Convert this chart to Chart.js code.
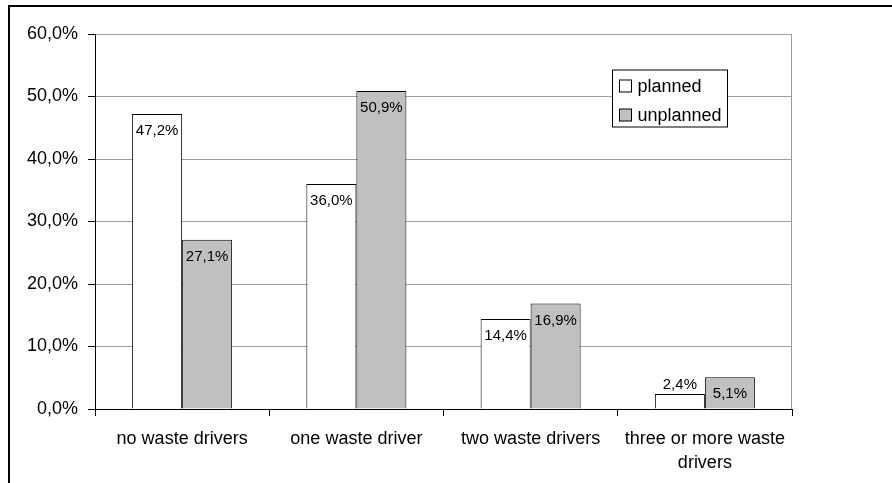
<!DOCTYPE html>
<html>
<head>
<meta charset="utf-8">
<script src="https://cdn.jsdelivr.net/npm/chart.js@4/dist/chart.umd.min.js"></script>
<style>
  html, body { margin: 0; padding: 0; background: #fff; }
  #marco { position: relative; width: 892px; height: 483px; overflow: hidden; }
  #borde { position: absolute; left: 8px; top: 5px; right: -4px; bottom: -4px;
           border-left: 2px solid #000; border-top: 2px solid #000; }
  #grafico { position: absolute; left: 0; top: 0; }
</style>
</head>
<body>
<div id="marco">
  <div id="borde"></div>
  <canvas id="grafico" width="892" height="483"></canvas>
</div>
<script>
// datos
const categorias = ["no waste drivers", "one waste driver", "two waste drivers", ["three or more waste", "drivers"]];
const planificado = [47.2, 36.0, 14.4, 2.4];
const noPlanificado = [27.1, 50.9, 16.9, 5.1];
const ticksY = [0, 10, 20, 30, 40, 50, 60];

const fuente = "'Liberation Sans', Arial, sans-serif";
const formatear = (v) => v.toFixed(1).replace(".", ",") + "%";

// etiquetas de valor sobre cada barra
const etiquetasPlugin = {
    id: "etiquetas",
    afterDatasetsDraw(chart) {
        const ctx = chart.ctx;
        ctx.save();
        ctx.font = "15px " + fuente;
        ctx.fillStyle = "#000";
        ctx.textAlign = "center";
        ctx.textBaseline = "middle";
        chart.data.datasets.forEach((ds, i) => {
            chart.getDatasetMeta(i).data.forEach((bar, j) => {
                const alto = bar.base - bar.y;
                const y = alto > 25 ? bar.y + 17 : bar.y - 9;
                ctx.fillText(formatear(ds.data[j]), bar.x, y);
            });
        });
        ctx.restore();
    }
};

// borde derecho del área y leyenda con recuadro
const marcoPlugin = {
    id: "marcoLeyenda",
    afterDraw(chart) {
        const ctx = chart.ctx;
        const a = chart.chartArea;
        ctx.save();
        ctx.strokeStyle = "#999";
        ctx.lineWidth = 1;
        ctx.beginPath();
        ctx.moveTo(a.right - 0.5, a.top);
        ctx.lineTo(a.right - 0.5, a.bottom);
        ctx.stroke();

        const lx = a.left + 517.5, ly = a.top + 36;
        ctx.fillStyle = "#fff";
        ctx.fillRect(lx, ly, 115, 57);
        ctx.strokeStyle = "#000";
        ctx.strokeRect(lx, ly, 115, 57);
        ctx.font = "18px " + fuente;
        ctx.textBaseline = "middle";
        ctx.textAlign = "left";
        chart.data.datasets.forEach((ds, i) => {
            const cy = ly + 16 + i * 29;
            ctx.fillStyle = ds.backgroundColor;
            ctx.fillRect(lx + 7, cy - 6, 12, 12);
            ctx.strokeStyle = "#000";
            ctx.strokeRect(lx + 7, cy - 6, 12, 12);
            ctx.fillStyle = "#000";
            ctx.fillText(ds.label, lx + 25, cy + 1);
        });
        ctx.restore();
    }
};

new Chart(document.getElementById("grafico").getContext("2d"), {
    type: "bar",
    data: {
        labels: categorias,
        datasets: [{
            label: "planned",
            data: planificado,
            backgroundColor: "#ffffff",
            borderColor: "#000000",
            borderWidth: 1
        }, {
            label: "unplanned",
            data: noPlanificado,
            backgroundColor: "#c0c0c0",
            borderColor: "#000000",
            borderWidth: 1
        }]
    },
    options: {
        responsive: false,
        animation: false,
        devicePixelRatio: 1,
        categoryPercentage: 0.574,
        barPercentage: 1,
        layout: { padding: { left: 0, right: 100, top: 34, bottom: 0 } },
        plugins: {
            legend: { display: false },
            tooltip: { enabled: false }
        },
        scales: {
            x: {
                grid: {
                    offset: true,
                    drawOnChartArea: false,
                    drawTicks: true,
                    tickLength: 7,
                    tickColor: "#000",
                    color: "#000"
                },
                border: { color: "#000", width: 1 },
                ticks: {
                    color: "#000",
                    font: { family: fuente, size: 18, lineHeight: 1.35 },
                    padding: 11,
                    maxRotation: 0,
                    autoSkip: false
                },
                afterFit(scale) { scale.height = 74; }
            },
            y: {
                min: 0,
                max: 60,
                afterBuildTicks(scale) { scale.ticks = ticksY.map(v => ({ value: v })); },
                grid: {
                    color: "#a0a0a0",
                    lineWidth: 1,
                    borderDash: [2, 2],
                    tickLength: 7,
                    tickColor: "#000",
                    tickBorderDash: []
                },
                border: { color: "#000", width: 1 },
                ticks: {
                    color: "#000",
                    font: { family: fuente, size: 18 },
                    padding: 10,
                    callback: (v) => formatear(v)
                },
                afterFit(scale) { scale.width = 95; }
            }
        }
    },
    plugins: [etiquetasPlugin, marcoPlugin]
});
</script>
</body>
</html>
